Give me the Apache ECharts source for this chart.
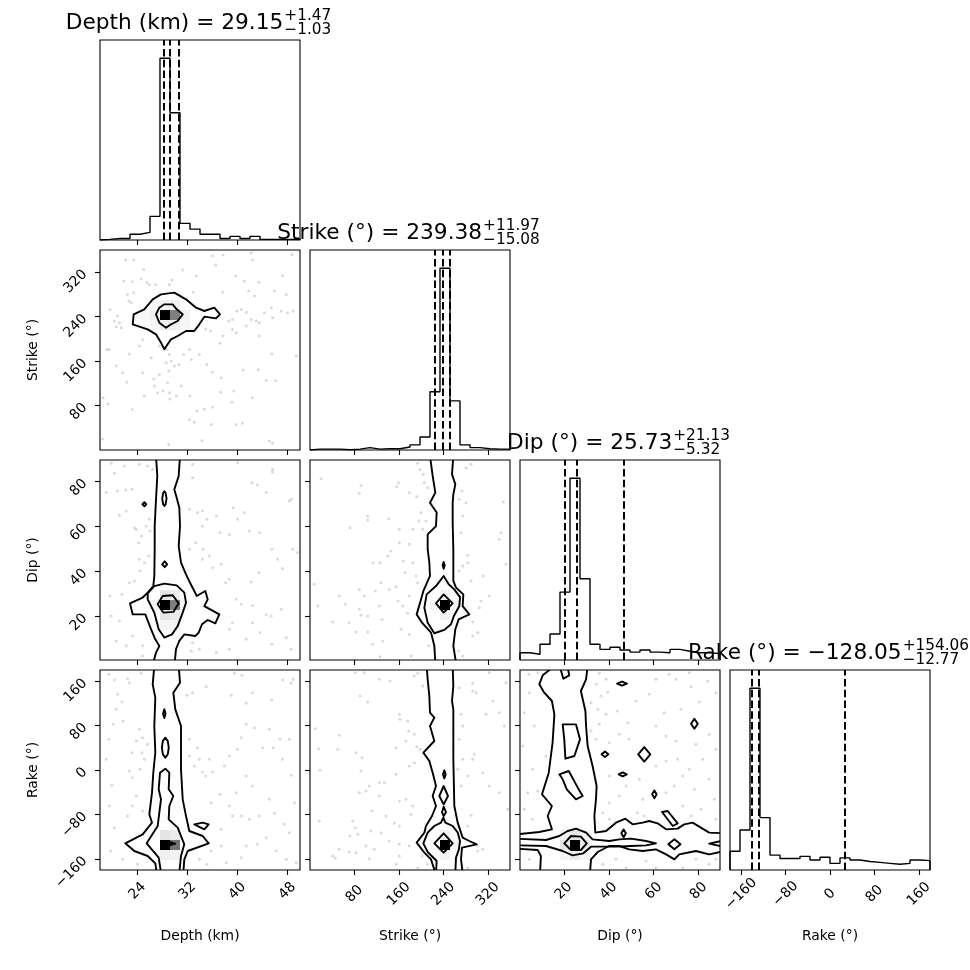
<!DOCTYPE html>
<html><head><meta charset="utf-8">
<script src="https://cdn.jsdelivr.net/npm/echarts@6/dist/echarts.min.js"></script>
<style>html,body{margin:0;padding:0;background:#fff}#c{width:970px;height:970px}</style>
</head><body><div id="c"></div>
<script>
// ---------------- DATA ----------------
const paramLabels = ['Depth (km)', 'Strike (\u00b0)', 'Dip (\u00b0)', 'Rake (\u00b0)'];
const depthRange = [18, 50];
const strikeRange = [0, 360];
const dipRange = [0.5, 89.5];
const rakeRange = [-180, 180];
const depthTicks = [24, 32, 40, 48];
const strikeTicks = [80, 160, 240, 320];
const dipTicks = [20, 40, 60, 80];
const rakeTicks = [-160, -80, 0, 80, 160];
const medians = [29.15, 239.38, 25.73, -128.05];
const plusErr = [1.47, 11.97, 21.13, 154.06];
const minusErr = [1.03, 15.08, 5.32, 12.77];

const depthCounts = [2,5,5,19,25,78,600,420,55,36,19,19,5,12,5,12,2,2,2,3];
const strikeCounts = [3,3,3,1,3,8,3,4,4,10,17,43,192,600,162,17,8,4,3,3];
const dipCounts = [24,19,52,86,224,600,268,52,35,42,33,26,33,26,24,35,29,24,24,21];
const rakeCounts = [62,132,600,173,49,38,38,45,33,42,22,40,33,28,25,22,19,22,33,31];

const ptsDepthStrike = [[22.1,342],[23.4,342],[36.0,349],[37.7,351],[42.2,355],[48.7,352],[42.4,342],[25.0,325],[31.2,324],[33.4,313],[36.5,333],[39.7,313],[47.2,314],[21.8,304],[23.2,303],[24.6,308],[25.5,302],[25.9,298],[26.9,298],[29.5,306],[29.1,298],[32.9,284],[37.6,284],[41.1,304],[43.4,302],[41.8,286],[42.7,277],[45.9,286],[47.8,280],[22.4,280],[23.4,283],[22.6,268],[23.0,265],[19.6,253],[20.3,232],[20.6,222],[21.1,229],[21.4,220],[20.8,241],[19.5,181],[19.1,181],[22.7,173],[24.3,187],[24.8,199],[26.2,166],[27.5,187],[28.7,181],[29.1,172],[29.4,160],[28.6,157],[29.0,142],[29.9,151],[30.6,154],[31.4,172],[32.3,181],[32.6,163],[33.9,172],[35.1,154],[36.0,140],[37.2,192],[37.7,205],[38.6,232],[39.2,235],[39.9,250],[40.6,253],[41.4,248],[42.2,235],[43.0,232],[43.5,229],[44.3,247],[45.4,256],[47.0,250],[48.0,247],[48.9,250],[45.6,238],[39.2,217],[41.4,223],[39.8,211],[34.9,218],[35.7,214],[43.5,205],[45.5,173],[49.4,169],[44.6,125],[46.1,125],[43.3,145],[40.9,144],[39.4,106],[39.1,86],[42.4,94],[37.3,104],[36.0,77],[34.7,74],[32.3,55],[33.1,50],[35.8,46],[40.8,48],[39.8,46],[45.1,16],[45.6,12],[34.3,17],[29.0,10],[23.2,73],[18.5,94],[19.3,83],[18.4,20],[25.1,97],[27.2,103],[26.7,115],[28.1,106],[29.2,92],[29.1,103],[28.8,121],[26.6,128],[27.5,136],[24.8,139],[22.3,122],[20.6,151],[21.6,139],[32.4,97],[33.5,70],[30.2,97],[31.0,115],[37.4,130]];
const ptsDepthDip = [[19.8,88.0],[21.9,86.8],[24.3,87.6],[25.6,86.8],[26.4,85.3],[32.8,87.6],[40.0,88.3],[45.6,85.3],[45.6,84.2],[32.8,81.6],[42.3,79.4],[43.2,78.4],[20.3,83.6],[19.0,75.0],[20.8,75.7],[22.1,76.2],[23.1,76.5],[21.1,64.9],[22.2,66.8],[23.5,59.4],[23.8,58.7],[24.6,55.7],[25.4,60.1],[25.9,63.1],[26.0,57.9],[24.2,52.7],[24.3,45.3],[25.1,43.8],[25.8,46.8],[24.4,40.1],[23.5,35.7],[21.5,29.7],[22.7,34.9],[19.6,29.0],[21.1,17.9],[19.8,20.1],[20.6,9.0],[22.2,6.8],[23.2,11.2],[24.8,6.8],[24.8,2.3],[32.3,67.6],[33.6,66.1],[34.4,66.8],[35.1,63.1],[36.6,64.6],[37.2,57.2],[38.7,56.4],[40.0,63.1],[39.3,68.3],[41.1,66.1],[44.6,75.0],[48.3,71.3],[48.6,72.0],[41.9,57.9],[43.5,57.2],[45.5,49.8],[48.8,49.8],[49.6,48.3],[46.4,45.3],[47.2,41.2],[43.4,39.4],[42.2,35.2],[38.7,36.4],[38.1,34.9],[37.4,43.1],[35.5,46.8],[34.5,49.8],[33.3,52.7],[34.4,60.1],[39.8,27.5],[40.6,25.3],[42.4,24.8],[44.6,20.8],[45.4,20.1],[47.0,23.1],[42.4,17.1],[39.2,17.1],[38.7,14.2],[41.4,9.7],[43.6,12.7],[45.5,7.5],[47.8,10.5],[48.6,5.3],[33.9,5.3],[32.6,4.5],[32.8,8.2],[36.6,3.8],[38.7,5.3],[34.4,45.3],[36.0,41.6],[32.3,49.8]];
const ptsStrikeDip = [[19.8,81.2],[91.8,78.2],[88.8,74.7],[72,59.4],[103.8,64.6],[103.8,62.8],[141.6,63.4],[159.6,79.4],[156,77.6],[178.8,75.0],[193.8,88.0],[198,85.3],[205.8,79.4],[204,83.1],[211.8,77.2],[192,73.2],[199.8,66.1],[195.6,62.4],[208.8,62.4],[202.8,58.7],[184.8,58.7],[160.8,58.7],[178.8,52.0],[139.8,46.8],[145.8,49.0],[126,43.8],[114,43.8],[160.8,52.7],[168,44.6],[184.8,43.8],[171.6,39.4],[190.8,37.9],[193.8,34.9],[178.8,29.0],[158.4,26.8],[142.8,31.9],[154.8,33.1],[127.8,34.9],[117.6,31.2],[88.8,31.9],[97.8,29.0],[52.8,29.0],[63.6,25.3],[88.8,23.1],[91.8,20.4],[70.8,17.1],[103.8,20.1],[124.8,24.5],[129.6,18.6],[40.8,17.4],[13.8,24.5],[7.8,34.2],[82.8,13.0],[103.8,13.0],[112.8,7.5],[130.8,9.0],[166.8,24.5],[175.8,21.3],[163.8,14.2],[178.8,11.9],[126,2.0],[181.8,2.3],[213.6,6.8],[267.6,4.5],[274.8,2.3],[292.8,11.2],[301.8,12.7],[292.8,17.4],[304.8,23.8],[307.8,26.8],[322.8,29.0],[289.8,35.7],[312,37.9],[340.8,54.2],[343.8,57.2],[271.8,57.2],[274.8,64.6],[268.8,72.0],[280.8,70.5],[280.8,86.1],[289.8,87.6],[273.6,75.7],[348,70.8],[352.8,43.1],[283.8,47.1],[274.8,42.3],[268.8,40.1],[283.8,43.8]];
const ptsDepthRake = [[19.4,172.2],[20.3,162],[22.4,164.4],[22.7,157.2],[24.6,174],[39.5,174],[40.7,170.4],[47.2,162],[48.9,163.2],[48.6,156],[35.0,150],[32.8,139.2],[31.9,134.4],[39.0,134.4],[42.4,139.2],[45.5,126],[41.4,120],[20.8,136.2],[21.5,122.4],[20.6,109.2],[21.7,88.2],[20.1,82.2],[19.4,55.2],[24.3,73.2],[24.8,58.2],[23.8,52.2],[25.6,46.2],[24.7,31.2],[25.1,19.2],[23.1,31.2],[19.0,19.2],[22.7,-1.8],[24.4,1.2],[23.2,-13.8],[19.9,-27.6],[23.8,-46.8],[23.2,-64.8],[19.5,-64.8],[24.8,-73.8],[22.4,-82.8],[20.3,-103.8],[32.3,55.2],[33.6,40.2],[32.3,25.2],[33.9,19.2],[33.1,7.2],[34.4,-3.6],[34.9,-10.8],[36.0,-3.6],[35.5,19.2],[37.9,7.2],[38.7,25.2],[40.0,37.2],[40.6,58.2],[41.4,82.2],[45.1,73.2],[42.7,76.2],[46.8,55.2],[48.3,55.2],[45.7,40.2],[44.0,40.2],[47.2,19.2],[48.6,-9.6],[41.4,-10.8],[42.4,-28.8],[39.8,-40.8],[37.2,-43.8],[38.7,-64.8],[40.6,-82.8],[41.9,-88.8],[39.2,-82.8],[43.5,-82.8],[45.9,-78],[47.5,-97.8],[48.3,-112.8],[44.6,-121.8],[43.2,-133.8],[41.4,-136.8],[37.4,-136.8],[35.8,-145.8],[33.9,-160.8],[35.1,-169.8],[38.2,-166.8],[40.6,-157.8],[46.2,-145.8],[47.8,-160.8],[49.4,-166.8],[19.7,-145.8],[21.6,-160.8],[24.0,-169.8],[35.8,-58.8],[37.4,-106.8],[49.1,-58.8],[45.1,-52.8]];
const ptsStrikeRake = [[81.6,175.2],[97.8,175.2],[124.8,163.2],[144,160.2],[193.8,174],[187.8,169.2],[202.8,151.2],[90,133.2],[103.8,122.4],[52.8,62.4],[9.6,74.4],[15.6,38.4],[18,-0.6],[49.8,37.2],[82.8,31.2],[93.6,22.2],[91.8,-1.8],[154.8,40.2],[172.8,52.2],[160.8,100.2],[162,91.2],[175.8,88.2],[177.6,70.2],[187.8,64.2],[192,42],[198,37.2],[187.8,13.2],[178.8,7.2],[154.8,-7.8],[124.8,-22.8],[133.8,-22.8],[106.8,-28.8],[100.8,-37.8],[88.8,-40.8],[124.8,-46.8],[111.6,-73.8],[160.8,-55.8],[172.8,-52.8],[181.8,-79.8],[184.8,-64.8],[136.8,-82.8],[151.8,-96],[160.8,-100.8],[76.8,-91.8],[81.6,-103.8],[85.8,-115.8],[109.8,-109.8],[127.8,-112.8],[142.8,-127.8],[160.8,-133.8],[178.8,-136.8],[100.8,-136.8],[115.8,-142.8],[72,-118.8],[16.8,-91.8],[52.8,-142.8],[40.8,-154.8],[45.6,-158.4],[70.8,-147.6],[82.8,-148.8],[160.8,-154.8],[106.8,-159.6],[154.8,-169.8],[193.8,-175.8],[201.6,-154.8],[211.8,-169.8],[268.8,-163.8],[283.8,-175.8],[301.8,-136.8],[301.8,-145.8],[310.8,-142.8],[283.8,-100.8],[289.8,-81.6],[355.8,-70.8],[340.8,-40.8],[322.8,-28.8],[310.8,-4.8],[292.8,19.2],[295.8,28.2],[274.8,19.2],[268.8,55.2],[274.8,79.2],[271.8,100.2],[316.8,100.2],[328.8,124.2],[298.8,139.2],[292.8,142.2],[292.8,156],[322.8,175.2],[352.8,157.2],[340.8,103.2],[268.8,148.2],[349.8,79.2],[283.8,-10.8],[271.8,-28.8],[265.8,1.2]];
const ptsDipRake = [[4.4,172.2],[8.4,175.2],[35.8,174],[38.8,163.2],[34.6,154.2],[39.5,140.4],[36.5,133.2],[32.1,121.2],[35.1,109.2],[38.8,100.2],[35.8,82.2],[32.1,70.2],[34.3,55.2],[40.2,49.2],[44.7,64.2],[49.1,55.2],[48.4,85.2],[43.9,106.2],[52.1,124.2],[58.0,136.2],[61.0,163.2],[66.9,172.2],[69.9,163.2],[75.8,175.2],[76.6,150],[84.0,160.2],[87.7,139.2],[80.3,122.4],[72.1,109.2],[64.7,103.2],[61.0,79.2],[65.5,61.2],[69.9,52.2],[78.8,46.2],[84.7,64.2],[87.7,37.2],[81.8,19.2],[75.8,1.2],[70.6,19.2],[65.5,16.2],[61.0,7.2],[53.6,-16.8],[47.7,-28.8],[44.7,-46.8],[40.2,-58.8],[37.3,-76.8],[40.2,-10.8],[55.1,-52.8],[65.5,-40.8],[69.2,-28.8],[72.9,-10.8],[78.1,-34.8],[84.7,-16.8],[87.0,-52.8],[81.0,-70.8],[72.9,-64.8],[76.6,-82.8],[87.7,-88.8],[4.7,139.2],[2.4,103.2],[6.9,79.2],[1.7,43.2],[6.1,1.2],[3.9,-40.8],[2.4,-70.8],[6.1,-88.8],[8.4,-37.8],[12.1,25.2],[4.7,-160.8],[37.3,-169.8],[43.2,-160.8],[47.7,-175.8],[56.6,-163.8],[61.0,-175.8],[72.9,-175.8],[78.8,-160.8],[84.7,-169.8],[87.7,-160.8],[40.2,-88.8],[52.8,-76.8],[55.8,-82.8]];

const contDepthStrike = [
  [[23.23,226.2],[23.39,244.2],[25.09,253.2],[26.43,271.2],[27.76,280.2],[29.89,283.2],[31.76,271.2],[33.36,256.2],[34.69,250.2],[36.29,256.2],[37.2,244.2],[36.56,237],[34.69,240],[33.89,226.2],[33.09,214.2],[31.76,214.2],[30.43,205.2],[29.36,199.2],[28.29,181.2],[27.76,193.2],[26.96,208.2],[25.63,217.2]],
  [[26.96,244.2],[27.49,256.2],[28.29,262.2],[29.63,262.2],[30.27,253.2],[31.23,244.2],[30.43,232.2],[29.36,226.2],[28.56,220.2],[27.49,229.2]]
];
const contDepthDip = [
  [[26.96,91.3],[30.8,91.3],[30.59,82.4],[29.89,76.4],[30.27,72.7],[30.69,68.3],[30.8,60.1],[30.59,51.2],[30.96,43.8],[31.76,38.6],[32.4,34.9],[33.09,31.2],[33.47,29.0],[34.85,31.2],[35.23,27.5],[34.69,24.5],[37.09,20.8],[36.45,16.8],[35.23,18.3],[34.32,16.4],[33.79,12.7],[33.25,11.2],[31.49,11.9],[30.69,9.0],[30.16,5.3],[29.95,-0.7],[26.53,-0.7],[26.96,3.8],[27.49,6.7],[26.85,9.7],[26.16,14.2],[25.25,20.8],[23.23,20.8],[22.8,25.7],[24.83,28.3],[25.63,30.5],[26.53,33.4],[26.69,37.9],[26.75,49.8],[26.75,60.1],[26.96,72.0],[27.17,82.4]],
  [[25.63,30.2],[26.69,33.4],[28.29,34.5],[30.27,33.7],[31.49,30.5],[31.76,26.0],[31.23,21.6],[30.43,15.6],[29.52,11.9],[28.29,10.5],[27.39,14.2],[26.69,21.6],[25.63,27.5]],
  [[27.23,25.3],[28.03,29.0],[29.63,29.3],[30.59,25.7],[29.73,21.9],[28.13,21.6]],
  [[24.8,69.8],[25.1,70.7],[25.4,69.8],[25.1,68.9]],
  [[27.95,72.3],[28.1,74.8],[28.3,75.6],[28.5,74.8],[28.65,72.3],[28.5,69.8],[28.3,69.0],[28.1,69.8]],
  [[27.95,43.1],[28.35,44.4],[28.75,43.1],[28.35,41.8]]
];
const contStrikeDip = [
  [[216,91.3],[220.8,82.4],[225.6,75.0],[216,70.5],[228,66.1],[226.8,60.1],[211.8,56.4],[211.8,49.8],[214.8,43.8],[216,37.9],[204,31.2],[201.6,29.0],[192,20.8],[201.6,17.1],[217.8,12.7],[223.8,6.8],[225.6,-0.7],[262.8,-0.7],[258,6.8],[261.6,14.2],[267.6,18.6],[286.8,20.8],[274.8,24.5],[276,29.7],[262.8,32.7],[258,35.7],[258,49.8],[256.8,61.6],[256.8,70.5],[258,74.2],[261.6,78.7],[255.6,83.1],[258,91.3]],
  [[210,29.7],[226.8,33.4],[240.6,37.9],[249.6,34.2],[260,31.8],[270,28.5],[268.8,24.5],[259,20.1],[253.8,16.4],[241.8,13.9],[223.8,12.4],[211.8,17.1],[205.8,23.8]],
  [[226.8,25.7],[240.6,29.7],[256.8,25.7],[240.6,21.6]],
  [[238.8,42.6],[240.6,44.1],[242.4,42.6],[240.6,41.1]]
];
const contDepthRake = [
  [[26.69,187.2],[26.43,154.2],[26.85,130.2],[26.69,79.2],[26.85,31.2],[26.53,-4.8],[26.32,-40.8],[25.89,-79.8],[26.32,-94.8],[24.83,-115.8],[22.05,-132],[23.49,-145.8],[25.63,-154.8],[26.85,-168],[27.07,-184.8],[31.33,-184.8],[31.49,-160.8],[32.03,-145.8],[35.39,-132],[34.43,-118.8],[32.29,-109.8],[31.76,-82.8],[31.23,-52.8],[30.96,1.2],[30.96,79.2],[30.05,109.2],[29.73,139.2],[30.8,157.2],[30.59,187.2]],
  [[27.6,-4.8],[28.45,2.4],[29.09,-4.8],[28.99,-34.8],[29.73,-46.8],[29.09,-64.8],[28.99,-88.8],[30.43,-103.8],[31.49,-133.8],[30.96,-154.8],[30.69,-184.8],[27.76,-184.8],[27.39,-157.8],[25.47,-132],[27.23,-100.8],[27.49,-76.8],[27.76,-52.8],[27.39,-34.8]],
  [[28.09,101.4],[28.29,109.4],[28.49,101.4],[28.29,93.4]],
  [[27.9,40.2],[28.05,52],[28.45,58.2],[28.85,52],[29.0,40.2],[28.85,28.4],[28.45,22.2],[28.05,28.4]],
  [[33.09,-97.8],[34.43,-94.8],[35.39,-97.8],[34.69,-106.8]],
  [[29.09,-129.6],[30.05,-132.6],[29.09,-135.6]]
];
const contStrikeRake = [
  [[210,187.2],[211.8,163.2],[214.8,133.2],[216,103.2],[223.8,94.2],[216,79.2],[223.8,52.2],[204,31.2],[214.8,16.2],[220.8,-4.8],[226.8,-28.8],[220.8,-46.8],[226.8,-64.8],[219.6,-82.8],[208.8,-100.8],[205.8,-112.8],[192,-130.8],[205.8,-148.8],[217.8,-160.8],[225.6,-184.8],[274.8,-184.8],[271.8,-160.8],[273.6,-139.8],[300,-133.8],[286.8,-127.8],[274.8,-121.8],[265.8,-94.8],[259.8,-64.8],[258,19.2],[258,109.2],[255.6,124.2],[258,151.2],[256.8,187.2]],
  [[204,-132],[211.8,-112.8],[223.8,-100.8],[235.8,-94.8],[240,-85.8],[243.6,-94.8],[256.8,-100.8],[266,-112.8],[270,-127.8],[268,-142.8],[262.8,-157.8],[261.6,-184.8],[226.8,-184.8],[228,-163.8],[211.8,-147.6]],
  [[223.8,-132],[240.6,-114],[256.8,-132],[240.6,-148.8]],
  [[239.4,-7.8],[241.8,-0.6],[244.2,-7.8],[241.8,-15]],
  [[232.8,-46.8],[240.6,-28.8],[248.4,-46.8],[240.6,-61.8]],
  [[237.6,-76],[240.6,-66],[244.8,-76],[240.6,-83]]
];
const contDipRake = [
  [[15.8,187.2],[10.6,170.4],[9.1,154.2],[11.3,139.2],[14.7,124.2],[15.8,100.2],[15.0,49.2],[13.3,-4.8],[10.3,-43.8],[14.7,-64.8],[12.8,-82.8],[14.7,-106.8],[9.1,-111.6],[-1.3,-115.8],[-1.3,-141.6],[8.4,-144],[9.8,-154.8],[9.4,-187.8],[31.6,-187.8],[32.1,-160.8],[35.1,-147.6],[40.2,-136.8],[44.7,-136.8],[49.1,-142.8],[55.1,-145.8],[61.0,-142.8],[65.5,-151.8],[69.2,-160.8],[71.4,-151.8],[78.8,-145.8],[84.7,-151.8],[91.4,-145.8],[91.4,-114],[84.7,-112.8],[81.0,-103.8],[77.3,-94.8],[73.6,-97.8],[70.6,-105.6],[65.5,-106.8],[61.7,-96],[58.0,-91.8],[55.1,-94.8],[50.6,-97.8],[47.4,-87.6],[43.2,-94.8],[38.8,-109.8],[34.0,-112.8],[33.6,-82.8],[34.3,-52.8],[34.6,-28.8],[32.8,7.2],[30.6,43.2],[29.9,79.2],[29.6,106.2],[27.6,142.2],[29.9,163.2],[30.6,187.2]],
  [[-1.3,-123.6],[12.1,-126],[18.0,-118.8],[21.7,-109.8],[25.4,-105.6],[29.9,-112.8],[32.8,-124.8],[40.2,-127.8],[44.7,-124.8],[49.9,-123.6],[56.6,-127.8],[61.0,-132],[56.6,-135.6],[49.9,-136.8],[43.2,-138],[32.1,-138],[28.7,-150],[23.9,-153.6],[19.5,-145.8],[12.1,-136.8],[-1.3,-135.6]],
  [[20.2,-132],[23.2,-118.8],[27.6,-120],[30.2,-132],[27.6,-144],[23.2,-144]],
  [[43.7,155.4],[45.9,159],[48.1,155.4],[45.9,151.8]],
  [[76.6,83.4],[78.1,92.4],[79.6,83.4],[78.1,74.4]],
  [[53.1,28.2],[55.8,41.2],[58.5,28.2],[55.8,15.2]],
  [[36.8,28.2],[38.3,33.2],[39.8,28.2],[38.3,23.2]],
  [[44.4,-7.8],[46.2,-4.2],[48.0,-7.8],[46.2,-11.4]],
  [[59.3,-43.8],[60.3,-36.8],[61.3,-43.8],[60.3,-50.8]],
  [[45.6,-114],[46.6,-107],[47.6,-114],[46.6,-121]],
  [[63.7,-75.6],[66.2,-73.8],[70.7,-96],[68.5,-100.8]],
  [[66.5,-133.8],[69.2,-124.8],[71.9,-133.8],[69.2,-142.8]],
  [[84.7,-132.6],[91,-127],[91,-138]],
  [[19.5,82.2],[25.4,82.2],[27.2,55.2],[24.7,25.2],[20.7,20.4],[20.2,55.2]],
  [[18.0,-7.8],[22.2,-1.8],[26.2,-31.8],[28.4,-46.8],[25.4,-52.8],[21.3,-34.8],[19.5,-16.8]],
  [[18.3,185],[19.8,164.4],[22.4,170.4],[21.7,185]]
];

// density cells: [x bin, y bin, darkness]
const densDepthStrike = [[6,13,1],[7,13,0.5],[5,13,0.06],[6,12,0.07],[7,12,0.06],[6,14,0.06],[7,14,0.05],[8,13,0.05],[5,12,0.03],[8,12,0.03],[4,13,0.03],[5,14,0.03]];
const densDepthDip = [[6,5,1],[7,5,0.5],[6,4,0.1],[7,4,0.08],[6,6,0.1],[7,6,0.07],[5,5,0.05],[8,5,0.04],[6,3,0.04],[7,3,0.04]];
const densStrikeDip = [[13,5,1],[13,4,0.06],[13,6,0.05],[12,5,0.05],[14,5,0.04]];
const densDepthRake = [[6,2,1],[7,2,0.55],[6,3,0.1],[7,3,0.08],[6,1,0.06],[7,1,0.05]];
const densStrikeRake = [[13,2,1],[13,1,0.06],[13,3,0.06],[12,2,0.04],[14,2,0.04]];
const densDipRake = [[5,2,1],[4,2,0.1],[6,2,0.1],[5,3,0.1],[5,1,0.08],[4,3,0.05],[6,3,0.05],[4,1,0.04],[6,1,0.04]];

// ---------------- BUILD ----------------
const NBINS = 20;
const FONT = 'DejaVu Sans';
const params = [
  {label: paramLabels[0], range: depthRange, ticks: depthTicks, counts: depthCounts, xMargin: 21},
  {label: paramLabels[1], range: strikeRange, ticks: strikeTicks, counts: strikeCounts, xMargin: 24},
  {label: paramLabels[2], range: dipRange, ticks: dipTicks, counts: dipCounts, xMargin: 21},
  {label: paramLabels[3], range: rakeRange, ticks: rakeTicks, counts: rakeCounts, xMargin: 24}
];
const panels2D = {
  '0-1': {pts: ptsDepthStrike, cont: contDepthStrike, dens: densDepthStrike},
  '0-2': {pts: ptsDepthDip, cont: contDepthDip, dens: densDepthDip},
  '1-2': {pts: ptsStrikeDip, cont: contStrikeDip, dens: densStrikeDip},
  '0-3': {pts: ptsDepthRake, cont: contDepthRake, dens: densDepthRake},
  '1-3': {pts: ptsStrikeRake, cont: contStrikeRake, dens: densStrikeRake},
  '2-3': {pts: ptsDipRake, cont: contDipRake, dens: densDipRake}
};
const fmtNum = v => (v < 0 ? '\u2212' + Math.abs(v) : String(v));
const fmtFix = v => (v < 0 ? '\u2212' + Math.abs(v).toFixed(2) : v.toFixed(2));
const tickStyle = {show: true, inside: false, length: 5, lineStyle: {color: '#000', width: 1.1}};
const labelBase = {color: '#000', fontSize: 13.9, fontFamily: FONT};
const noLine = {show: false, onZero: false};

const grids = [], xAxes = [], yAxes = [], series = [], graphics = [];
const L0 = 100, T0 = 40, SZ = 200, STEP = 210;

for (let r = 0; r < 4; r++) {
  for (let c = 0; c <= r; c++) {
    const g = grids.length;
    grids.push({left: L0 + STEP * c, top: T0 + STEP * r, width: SZ, height: SZ, show: true,
      borderColor: '#000', borderWidth: 1.1, backgroundColor: 'rgba(0,0,0,0)',
      containLabel: false, outerBoundsMode: 'none', z: 10});
    const P = params[c];
    const bottom = r === 3;
    xAxes.push({gridIndex: g, type: 'value', min: P.range[0], max: P.range[1], position: 'bottom',
      axisLine: noLine, splitLine: {show: false},
      axisTick: Object.assign({customValues: P.ticks}, tickStyle),
      axisLabel: Object.assign({show: bottom, customValues: P.ticks, rotate: 45, align: 'center',
        verticalAlign: 'middle', margin: P.xMargin, formatter: fmtNum}, labelBase),
      name: bottom ? P.label : '', nameLocation: 'middle', nameGap: 59,
      nameTextStyle: labelBase});
    if (r === c) {
      const cmax = Math.max(...P.counts);
      yAxes.push({gridIndex: g, type: 'value', min: 0, max: cmax * 1.1, position: 'left',
        axisLine: noLine, splitLine: {show: false}, axisTick: {show: false}, axisLabel: {show: false}});
      const bw = (P.range[1] - P.range[0]) / NBINS;
      const hist = [[P.range[0], 0]];
      P.counts.forEach((v, i) => hist.push([P.range[0] + i * bw, v]));
      hist.push([P.range[1], P.counts[NBINS - 1]]);
      hist.push([P.range[1], 0]);
      const m = medians[c];
      const qs = [m - minusErr[c], m, m + plusErr[c]];
      series.push({type: 'line', xAxisIndex: g, yAxisIndex: g, step: 'end', symbol: 'none',
        data: hist, lineStyle: {color: '#000', width: 1.4}, silent: true, z: 3,
        markLine: {silent: true, symbol: ['none', 'none'], label: {show: false},
          lineStyle: {color: '#000', type: [7.5, 3.3], width: 2}, emphasis: {disabled: true},
          data: qs.map(v => ({xAxis: v}))}});
    } else {
      const Q = params[r];
      yAxes.push({gridIndex: g, type: 'value', min: Q.range[0], max: Q.range[1], position: 'left',
        axisLine: noLine, splitLine: {show: false},
        axisTick: Object.assign({customValues: Q.ticks}, tickStyle),
        axisLabel: Object.assign({show: c === 0, customValues: Q.ticks, rotate: 45, margin: 15, formatter: fmtNum}, labelBase),
        name: c === 0 ? Q.label : '', nameLocation: 'middle', nameGap: 60,
        nameTextStyle: labelBase});
      const D = panels2D[c + '-' + r];
      const bx = (P.range[1] - P.range[0]) / NBINS, by = (Q.range[1] - Q.range[0]) / NBINS;
      series.push({type: 'scatter', xAxisIndex: g, yAxisIndex: g, data: D.pts, symbolSize: 3,
        itemStyle: {color: 'rgba(0,0,0,0.19)'}, silent: true, z: 1, clip: true});
      const polyData = D.cont.map((p, i) => [p[0][0], p[0][1], i]);
      const cont = D.cont;
      series.push({type: 'custom', xAxisIndex: g, yAxisIndex: g, data: polyData, clip: true, silent: true, z: 2,
        renderItem: (prm, api) => ({type: 'polygon', shape: {points: cont[api.value(2)].map(q => api.coord(q))},
          style: {fill: '#fff', stroke: 'none'}})});
      const cells = D.dens.map(([ix, iy, v]) => [P.range[0] + ix * bx, Q.range[0] + iy * by,
        P.range[0] + (ix + 1) * bx, Q.range[0] + (iy + 1) * by, v]);
      series.push({type: 'custom', xAxisIndex: g, yAxisIndex: g, data: cells, clip: true, silent: true, z: 3,
        encode: {x: [0, 2], y: [1, 3]},
        renderItem: (prm, api) => {
          const a = api.coord([api.value(0), api.value(1)]);
          const b = api.coord([api.value(2), api.value(3)]);
          return {type: 'rect', shape: {x: Math.min(a[0], b[0]), y: Math.min(a[1], b[1]),
            width: Math.abs(b[0] - a[0]), height: Math.abs(b[1] - a[1])},
            style: {fill: 'rgba(0,0,0,' + api.value(4) + ')'}};
        }});
      series.push({type: 'custom', xAxisIndex: g, yAxisIndex: g, data: polyData, clip: true, silent: true, z: 4,
        renderItem: (prm, api) => ({type: 'polygon', shape: {points: cont[api.value(2)].map(q => api.coord(q))},
          style: {fill: 'none', stroke: '#000', lineWidth: 1.9, lineJoin: 'round'}})});
    }
  }
}

// titles with super/subscripts
const mctx = document.createElement('canvas').getContext('2d');
function textW(t, size) { mctx.font = size + 'px "' + FONT + '"'; return mctx.measureText(t).width; }
const MAIN_FS = 21.7, SCR_FS = 15.3;
for (let i = 0; i < 4; i++) {
  const main = paramLabels[i] + ' = ' + fmtFix(medians[i]);
  const sup = '+' + plusErr[i].toFixed(2);
  const sub = '\u2212' + minusErr[i].toFixed(2);
  const wMain = textW(main, MAIN_FS);
  const wScr = Math.max(textW(sup, SCR_FS), textW(sub, SCR_FS));
  const cx = L0 + STEP * i + SZ / 2;
  const top = T0 + STEP * i;
  const x0 = cx - (wMain + wScr) / 2;
  const mk = (t, x, y, fs) => ({type: 'text', x: x, y: y, silent: true, z: 100,
    style: {text: t, font: fs + 'px "' + FONT + '"', fill: '#000', textAlign: 'left', align: 'left',
      textVerticalAlign: 'middle', verticalAlign: 'middle'}});
  graphics.push(mk(main, x0 - 2, top - 16.5, MAIN_FS));
  graphics.push(mk(sup, x0 - 1 + wMain, top - 23.5, SCR_FS));
  graphics.push(mk(sub, x0 - 1 + wMain, top - 9.5, SCR_FS));
}

const chart = echarts.init(document.getElementById('c'), null, {renderer: 'canvas'});
chart.setOption({
  animation: false,
  backgroundColor: '#fff',
  textStyle: {fontFamily: FONT},
  grid: grids, xAxis: xAxes, yAxis: yAxes, series: series, graphic: graphics
});
</script>
</body></html>
